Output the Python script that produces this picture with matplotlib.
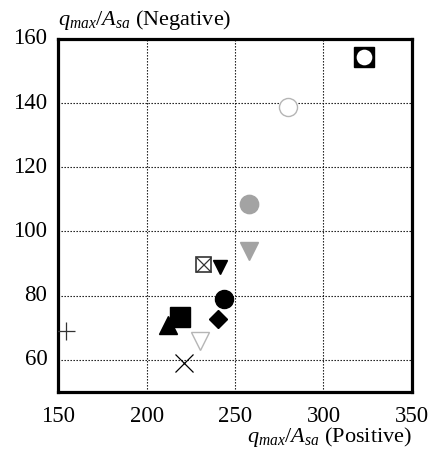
import matplotlib
matplotlib.use("Agg")
import matplotlib.pyplot as plt

plt.rcParams["font.family"] = ["Liberation Serif", "DejaVu Serif"]
plt.rcParams["mathtext.fontset"] = "custom"
plt.rcParams["mathtext.rm"] = "Liberation Serif"
plt.rcParams["mathtext.it"] = "Liberation Serif:italic"

# q_max/A_sa for each specimen, positive vs negative loading
pos_vals = [322.8, 280.2, 258.1, 258.0, 231.6, 241.7, 243.8, 240.2, 218.9, 211.9, 230.4, 221.3, 154.1]
neg_vals = [154.5, 138.7, 108.6, 94.0, 90.0, 89.0, 79.0, 72.8, 73.3, 70.8, 65.8, 59.0, 68.9]
x_ticks = [150, 200, 250, 300, 350]
y_ticks = [60, 80, 100, 120, 140, 160]

GRAY = "#a3a3a3"
LIGHT = "#b5b5b5"

# marker style for each specimen (kind, marker, size, face, edge)
styles = [
    ("sq_circ", "s", 13.7, "black", "black"),
    ("plain", "o", 13.0, "white", LIGHT),
    ("plain", "o", 13.2, GRAY, GRAY),
    ("plain", "v", 13.0, GRAY, GRAY),
    ("box_x", "s", 10.8, "white", "#333333"),
    ("plain", "v", 10.0, "black", "black"),
    ("plain", "o", 13.0, "black", "black"),
    ("plain", "D", 9.2, "black", "black"),
    ("plain", "s", 14.0, "black", "black"),
    ("plain", "^", 13.0, "black", "black"),
    ("plain", "v", 13.0, "white", LIGHT),
    ("plain", "x", 13.0, "black", "black"),
    ("plain", "+", 13.0, "black", "#333333"),
]

fig = plt.figure(figsize=(4.34, 4.55), dpi=100)
ax = fig.add_axes([0.1345, 0.1385, 0.8145, 0.776])

for x, y, (kind, mk, ms, fc, ec) in zip(pos_vals, neg_vals, styles):
    if kind == "sq_circ":
        ax.plot(x, y, marker="s", ms=ms, mfc="black", mec="black", ls="none", zorder=3)
        ax.plot(x, y, marker="o", ms=11.3, mfc="white", mec="white", mew=0, ls="none", zorder=4)
    elif kind == "box_x":
        ax.plot(x, y, marker="s", ms=ms, mfc=fc, mec=ec, mew=1.2, ls="none", zorder=3)
        ax.plot(x, y, marker="x", ms=ms, mec=ec, mew=0.9, ls="none", zorder=4)
    elif mk in ("x", "+"):
        ax.plot(x, y, marker=mk, ms=ms, mec=ec, mew=0.9, ls="none", zorder=3)
    else:
        ax.plot(x, y, marker=mk, ms=ms, mfc=fc, mec=ec, mew=1.0, ls="none", zorder=3)

ax.set_xlim(150, 350)
ax.set_ylim(50, 160)
ax.set_xticks(x_ticks)
ax.set_yticks(y_ticks)
ax.tick_params(length=0, labelsize=16.5)
ax.tick_params(axis="x", pad=10)
ax.tick_params(axis="y", pad=8)
for lbl in ax.get_yticklabels():
    lbl.set_verticalalignment("center")
ax.grid(True, color="black", linestyle=(0, (1.2, 1.5)), linewidth=0.8)
ax.set_axisbelow(True)
for sp in ax.spines.values():
    sp.set_linewidth(2.3)

label = r"$q_{max}/A_{sa}$"
ax.text(0.0, 1.02, label + " (Negative)", transform=ax.transAxes,
        ha="left", va="bottom", fontsize=16)
ax.text(1.0, -0.128, label + " (Positive)", transform=ax.transAxes,
        ha="right", va="center", fontsize=16)

fig.savefig("out.png", dpi=100)
